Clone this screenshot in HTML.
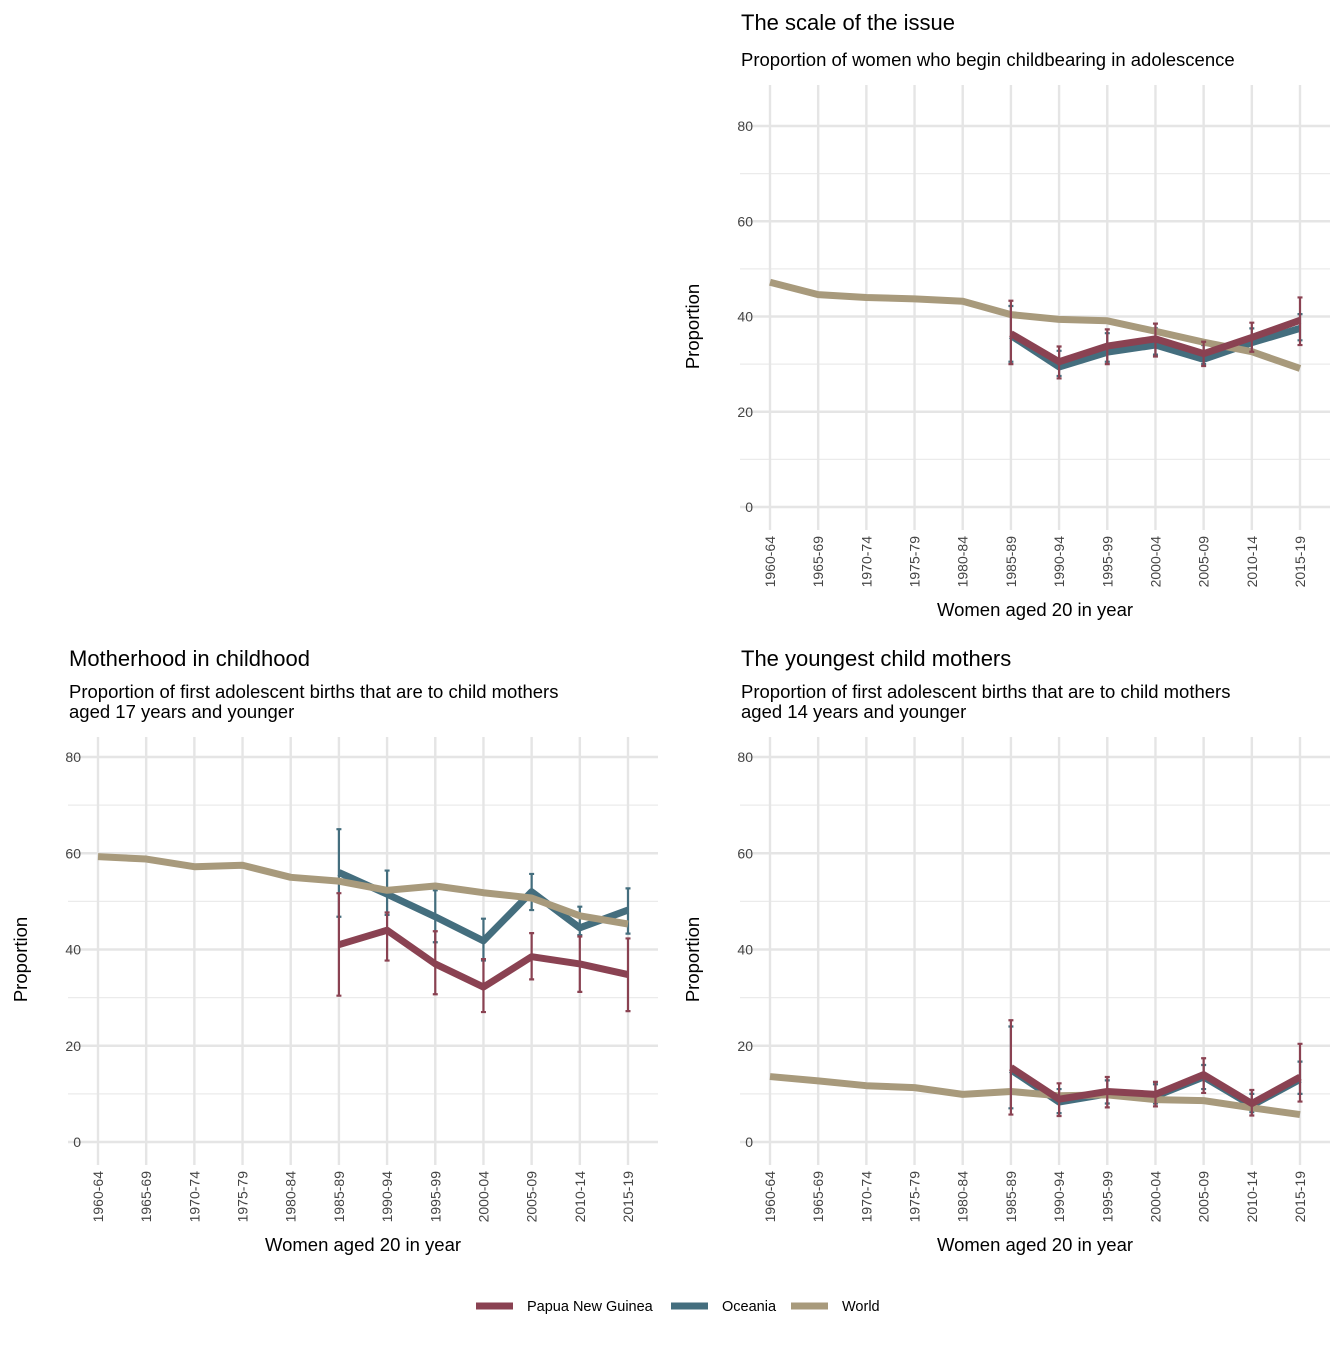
<!DOCTYPE html>
<html><head><meta charset="utf-8"><style>
body{margin:0;background:#fff;font-family:"Liberation Sans",Arial,sans-serif}
svg text{font-family:"Liberation Sans",Arial,sans-serif}
</style></head><body>
<svg id="chart" width="1344" height="1344" xmlns="http://www.w3.org/2000/svg"></svg>
<script>
const categories=["1960-64","1965-69","1970-74","1975-79","1980-84","1985-89","1990-94","1995-99","2000-04","2005-09","2010-14","2015-19"];
const yTicks=[0,20,40,60,80];
// panel 1
const p1World=[47.2,44.6,44,43.7,43.2,40.4,39.4,39.1,36.9,34.6,32.6,29.1];
const p1Png=[null,null,null,null,null,36.4,30.5,33.8,35.3,32.2,35.6,39.2];
const p1PngLo=[null,null,null,null,null,30,27,30,31.6,29.6,32.6,34];
const p1PngHi=[null,null,null,null,null,43.3,33.7,37.3,38.5,34.7,38.7,44];
const p1Oce=[null,null,null,null,null,36,29.4,32.5,34,31,34.5,37.5];
const p1OceLo=[null,null,null,null,null,30.5,27.5,30.5,32,30,33,35];
const p1OceHi=[null,null,null,null,null,42.2,32.8,36.5,37.5,34,37.5,40.5];
// panel 2
const p2World=[59.3,58.8,57.2,57.5,55,54.2,52.3,53.2,51.8,50.7,47,45.3];
const p2Png=[null,null,null,null,null,41,44,37,32.2,38.5,37,34.8];
const p2PngLo=[null,null,null,null,null,30.4,37.7,30.7,27,33.8,31.2,27.2];
const p2PngHi=[null,null,null,null,null,51.7,47.7,43.8,38,43.4,42.7,42.3];
const p2Oce=[null,null,null,null,null,56,51.5,46.8,41.8,52,44.5,48.2];
const p2OceLo=[null,null,null,null,null,46.8,47.2,41.5,37.7,48.2,43,43.3];
const p2OceHi=[null,null,null,null,null,65,56.4,52.3,46.4,55.7,48.9,52.7];
// panel 3
const p3World=[13.6,12.7,11.7,11.3,9.9,10.5,9.6,9.8,8.8,8.6,7.1,5.7];
const p3Png=[null,null,null,null,null,15.5,8.9,10.5,9.9,14,8,13.5];
const p3PngLo=[null,null,null,null,null,5.7,5.4,7.2,7.4,10.2,5.5,8.4];
const p3PngHi=[null,null,null,null,null,25.3,12.2,13.5,12.5,17.4,10.8,20.4];
const p3Oce=[null,null,null,null,null,15,8.3,10,9.5,13.5,7.6,13];
const p3OceLo=[null,null,null,null,null,7,6,8,8,11,6.2,10];
const p3OceHi=[null,null,null,null,null,24,11,12.8,12,16,10,16.7];

const C={png:"#8a4252",oce:"#446e7e",world:"#a89a7c"};
const NS="http://www.w3.org/2000/svg";
const svg=document.getElementById('chart');
function mk(tag,attrs,parent,txt){const e=document.createElementNS(NS,tag);for(const k in attrs)e.setAttribute(k,attrs[k]);if(txt!=null)e.textContent=txt;(parent||svg).appendChild(e);return e;}

function panel(key,x0,y0px,y80px,top,title,subs,world,png,pngLo,pngHi,oce,oceLo,oceHi){
  const g=mk('g',{});
  
  
  const step=(1300-770)/11;
  const xs=i=>x0+i*step;
  const ys=v=>y0px+(y80px-y0px)*v/80;
  const left=x0-30,right=x0+560,bottom=y0px+23;
  const n=subs.length;
  for(let v=10;v<=80;v+=20){mk('line',{x1:left,x2:right,y1:ys(v),y2:ys(v),stroke:'#ebebeb','stroke-width':1.2},g);}
  for(const v of yTicks){mk('line',{x1:left,x2:right,y1:ys(v),y2:ys(v),stroke:'#e5e5e5','stroke-width':2.4},g);}
  for(let i=0;i<categories.length;i++){mk('line',{x1:xs(i),x2:xs(i),y1:top,y2:bottom,stroke:'#e5e5e5','stroke-width':2.4},g);}
  for(const v of yTicks){const t=mk('text',{x:x0-17,y:ys(v)+5,'text-anchor':'end','font-size':14,fill:'#444'},g,String(v));}
  for(let i=0;i<categories.length;i++){const t=mk('text',{x:0,y:0,transform:`translate(${xs(i)+5},${bottom+6}) rotate(-90)`,'text-anchor':'end','font-size':14,fill:'#444'},g,categories[i]);}
  const xt=mk('text',{x:x0+265,y:bottom+86,'text-anchor':'middle','font-size':18.5,fill:'#000'},g,'Women aged 20 in year');
  
  const yt=mk('text',{x:0,y:0,transform:`translate(${x0-71},${(ys(0)+ys(80))/2+10}) rotate(-90)`,'text-anchor':'middle','font-size':18.5,fill:'#000'},g,'Proportion');
  
  const tt=mk('text',{x:left+1,y:top-55-(n-1)*16,'font-size':22,fill:'#000'},g,title);
  
  subs.forEach((s,k)=>{const st=mk('text',{x:left+1,y:top-19-(n-1-k)*20,'font-size':18.5,fill:'#000'},g,s);});
  function line(vals,col,name){let d='';vals.forEach((v,i)=>{if(v==null)return;d+=(d?'L':'M')+xs(i)+','+ys(v);});const p=mk('path',{d:d,fill:'none',stroke:col,'stroke-width':7,'stroke-linejoin':'round'},g);}
  function errs(lo,hi,col,name){lo.forEach((v,i)=>{if(v==null)return;const e=mk('path',{d:`M${xs(i)},${ys(v)}L${xs(i)},${ys(hi[i])}M${xs(i)-2.5},${ys(v)}L${xs(i)+2.5},${ys(v)}M${xs(i)-2.5},${ys(hi[i])}L${xs(i)+2.5},${ys(hi[i])}`,stroke:col,'stroke-width':2.2,fill:'none'},g);});}
  errs(oceLo,oceHi,C.oce,'oceania-error-bar');
  line(oce,C.oce,'oceania-line');
  line(world,C.world,'world-line');
  errs(pngLo,pngHi,C.png,'png-error-bar');
  line(png,C.png,'png-line');
}
panel('scale',770,507,126,85,'The scale of the issue',['Proportion of women who begin childbearing in adolescence'],p1World,p1Png,p1PngLo,p1PngHi,p1Oce,p1OceLo,p1OceHi);
panel('motherhood',98,1142,757,737,'Motherhood in childhood',['Proportion of first adolescent births that are to child mothers','aged 17 years and younger'],p2World,p2Png,p2PngLo,p2PngHi,p2Oce,p2OceLo,p2OceHi);
panel('youngest',770,1142,757,737,'The youngest child mothers',['Proportion of first adolescent births that are to child mothers','aged 14 years and younger'],p3World,p3Png,p3PngLo,p3PngHi,p3Oce,p3OceLo,p3OceHi);
const leg=[["Papua New Guinea",C.png,476],["Oceania",C.oce,671],["World",C.world,791]];
for(const [nm,c,x] of leg){
  const l=mk('line',{x1:x,x2:x+37,y1:1306,y2:1306,stroke:c,'stroke-width':7});
  
  const t=mk('text',{x:x+51,y:1311,'font-size':14.5,fill:'#000'},null,nm);
  
}
</script>
</body></html>
